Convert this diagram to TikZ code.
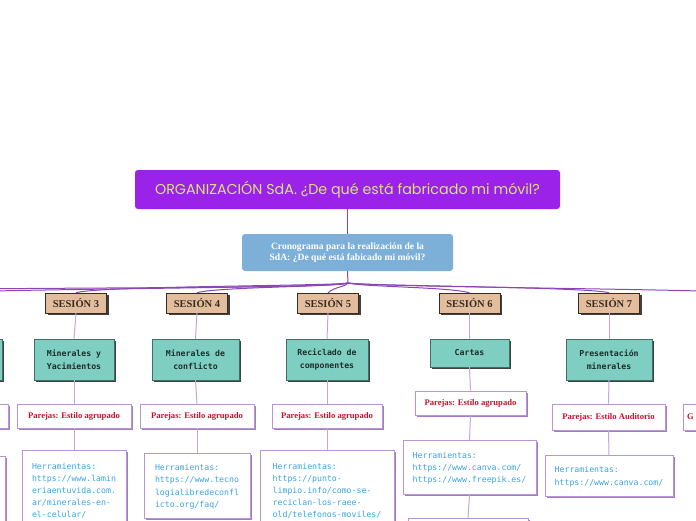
\documentclass[tikz,border=0pt]{standalone}
\usepackage{fontspec}
\setmainfont{Liberation Serif}
\newfontfamily\titlefont{Poppins}
\newfontfamily\pixfont{DejaVu Sans Mono}
\usetikzlibrary{shadows,calc}
\definecolor{titlefill}{HTML}{9B22E8}
\definecolor{titletext}{HTML}{D9E27A}
\definecolor{cronofill}{HTML}{7DB0D8}
\definecolor{sesfill}{HTML}{E2BD9E}
\definecolor{sestext}{HTML}{3A2A20}
\definecolor{tealfill}{HTML}{7ECFC1}
\definecolor{tealdraw}{HTML}{3F6F66}
\definecolor{tealtext}{HTML}{1E2E2B}
\definecolor{boxdraw}{HTML}{B995D8}
\definecolor{boxshadow}{HTML}{A27CC6}
\definecolor{redtext}{HTML}{C8102E}
\definecolor{bluetext}{HTML}{3AA3E3}
\definecolor{mainline}{HTML}{8B45B5}
\definecolor{colline}{HTML}{C3A5E0}
\tikzset{
  titlebox/.style={fill=titlefill, rounded corners=3pt, text=titletext, inner sep=0pt,
    minimum width=425, minimum height=39, font=\titlefont\fontsize{14.3}{16}\selectfont},
  cronobox/.style={fill=cronofill, rounded corners=3pt, text=white, inner sep=0pt, align=center,
    minimum width=211, minimum height=37, font=\bfseries\fontsize{9.6}{11.5}\selectfont},
  sesbox/.style={fill=sesfill, draw=sestext, line width=0.4pt, inner sep=0pt,
    minimum width=61, minimum height=20, text=sestext,
    drop shadow={shadow xshift=2pt, shadow yshift=-2pt, fill=black!75, opacity=1},
    font=\bfseries\fontsize{10.5}{11}\selectfont},
  tealbox/.style={fill=tealfill, draw=tealdraw, line width=0.4pt, inner sep=0pt, align=center,
    minimum height=41, text=tealtext,
    drop shadow={shadow xshift=2pt, shadow yshift=-2pt, fill=black!75, opacity=1},
    font=\pixfont\bfseries\fontsize{8.2}{12.5}\selectfont},
  parbox/.style={fill=white, draw=boxdraw, line width=0.8pt, inner sep=0pt,
    minimum height=24, text=redtext,
    drop shadow={shadow xshift=2pt, shadow yshift=-2pt, fill=boxshadow, opacity=1},
    font=\bfseries\fontsize{8.6}{9}\selectfont},
  herbox/.style={fill=white, draw=boxdraw, line width=0.8pt, inner xsep=6pt, inner ysep=6pt,
    text=bluetext, align=left, anchor=north, text depth=0pt,
    drop shadow={shadow xshift=2pt, shadow yshift=-2pt, fill=boxshadow, opacity=1},
    font=\pixfont\fontsize{8.2}{12.1}\selectfont},
  mainconn/.style={draw=mainline, line width=1pt},
  colconn/.style={draw=colline, line width=1pt},
}
\begin{document}
\begin{tikzpicture}[x=1pt,y=-1pt]
\useasboundingbox (0,0) rectangle (696,520);
\clip (0,0) rectangle (696,520);

% title and cronograma
\node[titlebox] (t) at (347.5,189.5) {ORGANIZACIÓN SdA. ¿De qué está fabricado mi móvil?};
\node[cronobox] (c) at (347.5,252.5) {Cronograma para la realización de la\\SdA: ¿De qué está fabicado mi móvil?};
\coordinate (hub) at (348,283);
\draw[mainconn] (t.south) -- (c.north);
\draw[mainconn] (c.south) -- (hub);

% sessions
\node[sesbox] (s1) at (-190,303) {};
\node[sesbox] (s2) at (-47,303) {};
\node[sesbox] (s3) at (76,303) {SESIÓN 3};
\node[sesbox] (s4) at (197,303) {SESIÓN 4};
\node[sesbox] (s5) at (328,303) {SESIÓN 5};
\node[sesbox] (s6) at (469.5,303) {SESIÓN 6};
\node[sesbox] (s7) at (609,303) {SESIÓN 7};
\node[sesbox] (s8) at (745,303) {};

% hub connectors
\draw[mainconn] (hub) .. controls (340,290) and (-100,286) .. (s1.north);
\draw[mainconn] (hub) .. controls (335,288) and (-20,289) .. (s2.north);
\draw[mainconn] (hub) .. controls (330,286) and (95,286) .. (s3.north);
\draw[mainconn] (hub) .. controls (330,287) and (215,287) .. (s4.north);
\draw[mainconn] (hub) .. controls (345,287) and (334,287) .. (s5.north);
\draw[mainconn] (hub) .. controls (365,287) and (450,287) .. (s6.north);
\draw[mainconn] (hub) .. controls (370,286) and (590,287) .. (s7.north);
\draw[mainconn] (hub) .. controls (370,287) and (700,289) .. (s8.north);

% teal boxes
\node[tealbox, minimum width=84] (m2) at (-40,359.5) {};
\node[tealbox, minimum width=80] (m3) at (74,359.5) {Minerales y\\Yacimientos};
\node[tealbox, minimum width=87] (m4) at (195.5,359.5) {Minerales de\\conflicto};
\node[tealbox, minimum width=82] (m5) at (327,359.5) {Reciclado de\\componentes};
\node[tealbox, minimum width=79, minimum height=28] (m6) at (469.5,353) {Cartas};
\node[tealbox, minimum width=86] (m7) at (609,359.5) {Presentación\\minerales};

% parejas boxes
\node[parbox, minimum width=114] (p2) at (-49,416) {};
\node[parbox, minimum width=114] (p3) at (74,416) {Parejas: Estilo agrupado};
\node[parbox, minimum width=114] (p4) at (197,416) {Parejas: Estilo agrupado};
\node[parbox, minimum width=110] (p5) at (327,416) {Parejas: Estilo agrupado};
\node[parbox, minimum width=111] (p6) at (470.5,403) {Parejas: Estilo agrupado};
\node[parbox, minimum width=113, minimum height=26] (p7) at (608.5,417) {Parejas: Estilo Auditorio};
\node[parbox, minimum width=114, minimum height=26, text width=106, align=left] (p8) at (740,417) {G};

% herramientas boxes
\node[herbox, minimum width=104, minimum height=80] (h2) at (-47,456) {};
\node[herbox, minimum width=104, minimum height=80, font=\pixfont\fontsize{8.2}{11.8}\selectfont] (h3) at (74,450) {Herramientas:\\https://www.lamin\\eriaentuvida.com.\\ar/minerales-en-\\el-celular/};
\node[herbox, minimum width=106, minimum height=65] (h4) at (197,453) {Herramientas:\\https://www.tecno\\logialibredeconfl\\icto.org/faq/};
\node[herbox, minimum width=134, minimum height=80, font=\pixfont\fontsize{8.2}{11.8}\selectfont] (h5) at (327,450) {Herramientas:\\https://punto-\\limpio.info/como-se-\\reciclan-los-raee-\\old/telefonos-moviles/};
\node[herbox, minimum width=133, minimum height=54] (h6) at (469.5,440) {Herramientas:\\https://www.canva.com/\\https://www.freepik.es/};
\node[herbox, minimum width=120, minimum height=30] (x6) at (468,518) {};
\node[herbox, minimum width=128, minimum height=41] (h7) at (609,455) {Herramientas:\\https://www.canva.com/};

% column connectors
\foreach \i in {2,...,7}{
  \draw[colconn] (s\i.south) -- (m\i.north);
  \draw[colconn] (m\i.south) -- (p\i.north);
  \draw[colconn] (p\i.south) -- (h\i.north);
}
\draw[colconn] (h6.south) -- (x6.north);
\end{tikzpicture}
\end{document}
